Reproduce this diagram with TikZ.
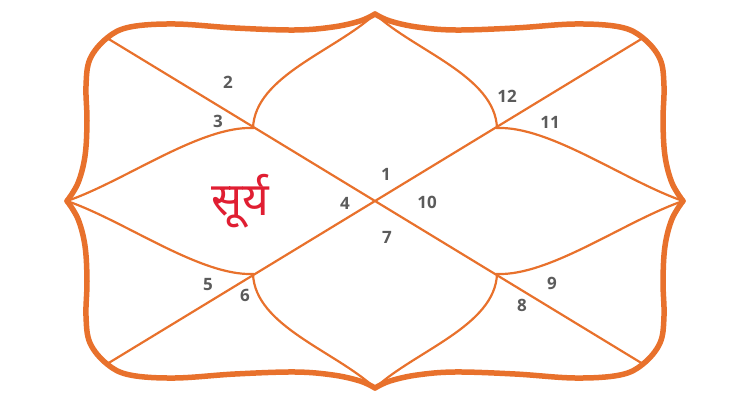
\documentclass[tikz,border=0pt]{standalone}
\usepackage{fontspec}
\setmainfont{Open Sans}
\newfontfamily\devafont[Script=Devanagari]{Noto Sans}
\usetikzlibrary{positioning}
\definecolor{chartorange}{HTML}{E8712C}
\definecolor{numgray}{HTML}{5B5B5B}
\definecolor{namered}{HTML}{E01E32}
\tikzset{
  frameline/.style={chartorange,line width=5.5pt,line cap=round,line join=round},
  houseline/.style={chartorange,line width=2.2pt,line cap=round},
  housenum/.style={numgray,font=\bfseries\fontsize{17}{17}\selectfont,inner sep=0pt}
}

\begin{document}
\begin{tikzpicture}[x=1pt,y=-1pt]
\useasboundingbox (0,0) rectangle (750,406);
\coordinate (c) at (375,201);
\coordinate (tl) at (107,38);
\coordinate (tr) at (643,38);
\coordinate (bl) at (107,364);
\coordinate (br) at (643,364);

% diagonals
\draw[houseline] (tl) -- (br);
\draw[houseline] (tr) -- (bl);

% outer frame and petals, one quarter at a time
\foreach \sx/\sy in {1/1,-1/1,1/-1,-1/-1}{
  \begin{scope}[shift={(c)},xscale=\sx,yscale=\sy]
    \draw[frameline] plot[smooth,tension=0.6] coordinates {(-308,0) (-297,-18) (-290,-45) (-288,-80)
      (-289,-115) (-285,-142) (-268,-163) (-245,-174) (-200,-177) (-140,-173) (-80,-171)
      (-42,-174) (-15,-180) (0,-187)};
    \draw[houseline] (0,-187) .. controls (-40,-150) and (-120,-125) .. (-122,-73)
      .. controls (-175,-75) and (-250,-20) .. (-308,0);
  \end{scope}
}

% house numbers
\node[housenum] (h1) at (386,174) {1};
\node[housenum] (h2) at (228,82) {2};
\node[housenum] (h3) at (218,121) {3};
\node[housenum] (h4) at (345,203) {4};
\node[housenum] (h5) at (208,285) {5};
\node[housenum] (h6) at (245,295) {6};
\node[housenum] (h7) at (387,237) {7};
\node[housenum] (h8) at (522,305) {8};
\node[housenum] (h9) at (552,283) {9};
\node[housenum] (h10) at (427,202) {10};
\node[housenum] (h11) at (550,122) {11};
\node[housenum] (h12) at (507,96) {12};

\node[namered,font=\devafont\fontsize{46}{46}\selectfont,inner sep=0pt] (surya) at (240,201) {सूर्य};
\end{tikzpicture}
\end{document}
